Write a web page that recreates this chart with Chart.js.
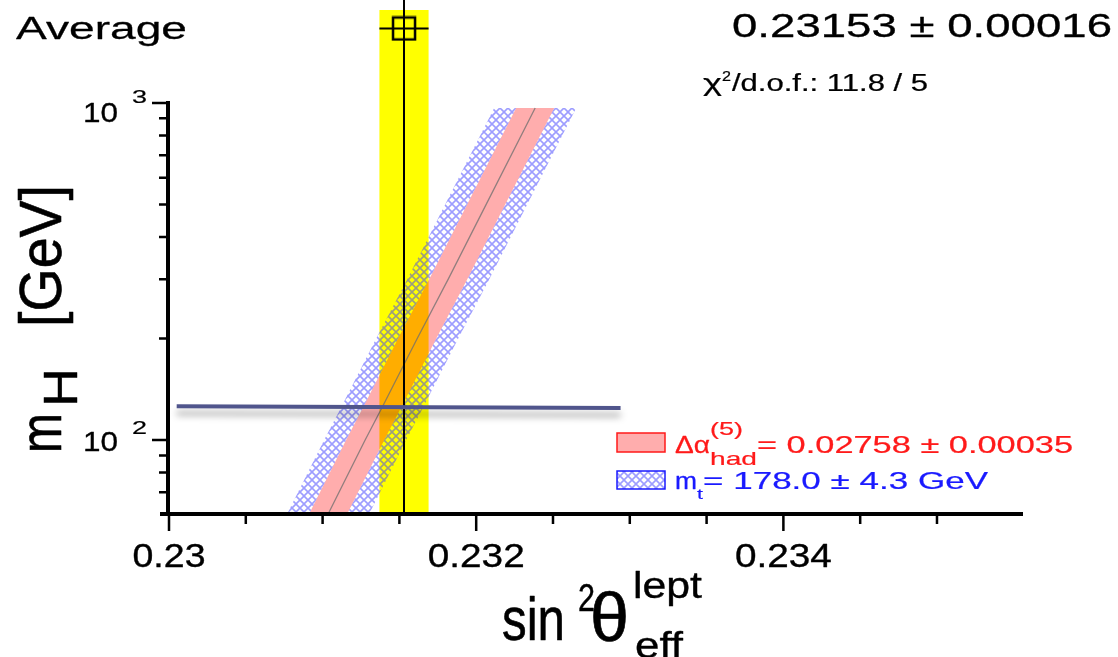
<!DOCTYPE html>
<html>
<head>
<meta charset="utf-8">
<script src="https://cdn.jsdelivr.net/npm/chart.js@4.4.1/dist/chart.umd.min.js"></script>
<style>
    html, body { margin: 0; padding: 0; background: #fff; }
    #wrap { width: 1118px; height: 657px; position: relative; }
</style>
</head>
<body>
<div id="wrap"><canvas id="ewChart"></canvas></div>
<script>
const mHLevels = [60.3, 100, 125, 200, 300, 500, 966];
// sin2theta_eff prediction vs mH
const centralLine = [0.231036, 0.231277, 0.231388, 0.231616, 0.231818, 0.232065, 0.232384];
const alphaLow  = [0.230912, 0.231153, 0.231264, 0.231492, 0.231694, 0.231941, 0.232260];
const alphaHigh = [0.231160, 0.231401, 0.231512, 0.231740, 0.231942, 0.232189, 0.232508];
const topLow    = [0.230769, 0.231010, 0.231121, 0.231349, 0.231551, 0.231798, 0.232117];
const topHigh   = [0.231303, 0.231544, 0.231655, 0.231883, 0.232085, 0.232332, 0.232651];

// measured average
const averageValue = 0.23153;
const averageError = 0.00016;
const averageBandMH = [60.3, 1888];
const averageLineMH = [60.3, 2021];
const averageRowMH = 1663;

// mH = 125 GeV marker line
const higgsLineX = [0.23005, 0.23294];
const higgsLineMH = [126, 124.5];

// axes
const xMin = 0.23, xMax = 0.23556;
const yMin = 60.3, yMax = 1966;
const xMajorTicks = [0.230, 0.232, 0.234];
const xTickLabels = ['0.23', '0.232', '0.234'];
const xMinorTicks = [0.2305, 0.2310, 0.2315, 0.2325, 0.2330, 0.2335, 0.2345, 0.2350];
const yMajorTicks = [100, 1000];
const yTickExponents = ['2', '3'];
const yMinorTicks = [70, 80, 90, 200, 300, 400, 500, 600, 700, 800, 900];

const FONT = '"Liberation Sans", Arial, Helvetica, sans-serif';

function makeHatch() {
    const c = document.createElement('canvas');
    c.width = 8; c.height = 8;
    const g = c.getContext('2d');
    g.strokeStyle = 'rgba(60,60,255,0.5)';
    g.lineWidth = 1.6;
    g.beginPath();
    g.moveTo(-1, -1); g.lineTo(9, 9);
    g.moveTo(9, -1); g.lineTo(-1, 9);
    g.stroke();
    return g.createPattern(c, 'repeat');
}
const hatch = makeHatch();
const pink = 'rgba(255,0,0,0.32)';

// open square used as the marker of the average
function makeSquare() {
    const c = document.createElement('canvas');
    c.width = 26; c.height = 26;
    const g = c.getContext('2d');
    g.strokeStyle = '#000';
    g.lineWidth = 2.5;
    g.strokeRect(2, 2, 22, 22);
    return c;
}

const pts = (xs, ys) => xs.map((x, i) => ({ x: x, y: ys[i] }));

function edge(data, extra) {
    return Object.assign({
        data: data,
        borderColor: 'transparent',
        borderWidth: 0,
        pointRadius: 0,
        fill: false
    }, extra);
}

// draw text squeezed/stretched to a given width (the source image is not uniformly scaled)
function fitText(ctx, text, x, baseline, size, width, color) {
    ctx.save();
    ctx.font = size + 'px ' + FONT;
    const w = ctx.measureText(text).width;
    const sx = width / w;
    ctx.translate(x, baseline);
    ctx.scale(sx, 1);
    ctx.fillStyle = color;
    ctx.strokeStyle = color;
    ctx.lineWidth = (0.15 + size / 130) / Math.max(sx, 1);
    ctx.lineJoin = 'round';
    ctx.textAlign = 'left';
    ctx.textBaseline = 'alphabetic';
    ctx.fillText(text, 0, 0);
    ctx.strokeText(text, 0, 0);
    ctx.restore();
}

function fitTextUp(ctx, text, baselineX, startY, size, length, color) {
    ctx.save();
    ctx.translate(baselineX, startY);
    ctx.rotate(-Math.PI / 2);
    fitText(ctx, text, 0, 0, size, length, color);
    ctx.restore();
}

const decor = {
    id: 'decor',
    beforeDatasetDraw(chart, args) {
        if (args.index === 8) {
            const ctx = chart.ctx;
            ctx.save();
            ctx.shadowColor = 'rgba(0,0,0,0.35)';
            ctx.shadowBlur = 7;
            ctx.shadowOffsetY = 7;
        }
    },
    afterDatasetDraw(chart, args) {
        if (args.index === 8) chart.ctx.restore();
    },
    afterDraw(chart) {
        const ctx = chart.ctx;
        const xs = chart.scales.x, ys = chart.scales.y;
        const axisX = xs.getPixelForValue(xMin) - 1;
        const axisY = ys.getPixelForValue(yMin);
        const black = '#000';

        // axis lines
        ctx.save();
        ctx.strokeStyle = black;
        ctx.lineWidth = 4;
        ctx.beginPath();
        ctx.moveTo(axisX, ys.getPixelForValue(1000) - 2);
        ctx.lineTo(axisX, axisY + 2);
        ctx.moveTo(axisX - 8, axisY);
        ctx.lineTo(xs.getPixelForValue(xMax), axisY);
        ctx.stroke();

        // ticks
        ctx.lineWidth = 2.5;
        ctx.beginPath();
        xMajorTicks.forEach(v => {
            const px = xs.getPixelForValue(v);
            ctx.moveTo(px, axisY); ctx.lineTo(px, axisY + 17);
        });
        xMinorTicks.forEach(v => {
            const px = xs.getPixelForValue(v);
            ctx.moveTo(px, axisY); ctx.lineTo(px, axisY + 10);
        });
        yMajorTicks.forEach(v => {
            const py = ys.getPixelForValue(v);
            ctx.moveTo(axisX, py); ctx.lineTo(axisX - 16, py);
        });
        yMinorTicks.forEach(v => {
            const py = ys.getPixelForValue(v);
            ctx.moveTo(axisX, py); ctx.lineTo(axisX - 9, py);
        });
        ctx.stroke();
        ctx.restore();

        // x tick labels
        const xLabelWidths = [73, 97, 97];
        xMajorTicks.forEach((v, i) => {
            const px = xs.getPixelForValue(v);
            fitText(ctx, xTickLabels[i], px - xLabelWidths[i] / 2, 567, 34, xLabelWidths[i], black);
        });

        // y tick labels (10^n)
        const baseOffsets = [11, 19];
        const expOffsets = [-6, 0];
        yMajorTicks.forEach((v, i) => {
            const py = ys.getPixelForValue(v);
            fitText(ctx, '10', 83, py + baseOffsets[i], 28, 35, black);
            fitText(ctx, yTickExponents[i], 132, py + expOffsets[i], 19, 15, black);
        });

        // x axis title
        fitText(ctx, 'sin', 502, 640, 62, 63, black);
        fitText(ctx, '2', 578, 611, 38, 17, black);
        fitText(ctx, 'θ', 590, 641, 68, 39, black);
        fitText(ctx, 'lept', 633, 598, 36, 69, black);
        fitText(ctx, 'eff', 635, 658, 36, 48, black);

        // y axis title
        fitTextUp(ctx, 'm', 61, 453, 60, 40, black);
        fitTextUp(ctx, 'H', 77, 407, 48, 39, black);
        fitTextUp(ctx, '[GeV]', 61, 327, 60, 142, black);

        // header
        fitText(ctx, 'Average', 16, 39, 32, 171, black);
        fitText(ctx, averageValue.toFixed(5) + ' \u00b1 ' + averageError.toFixed(5), 732, 37, 33, 380, black);
        fitText(ctx, '\u03c7', 703, 91, 23, 19, black);
        fitText(ctx, '2', 722, 81, 15, 9, black);
        fitText(ctx, '/d.o.f.: 11.8 / 5', 732, 91, 23, 196, black);

        // legend
        const red = '#ff1a1a', blue = '#1a1aff';
        ctx.save();
        ctx.fillStyle = '#fff';
        ctx.fillRect(617, 433, 48, 19);
        ctx.fillStyle = pink;
        ctx.fillRect(617, 433, 48, 19);
        ctx.strokeStyle = red;
        ctx.lineWidth = 1.5;
        ctx.strokeRect(617, 433, 48, 19);
        ctx.fillStyle = hatch;
        ctx.fillRect(617, 471, 48, 18);
        ctx.strokeStyle = blue;
        ctx.strokeRect(617, 471, 48, 18);
        ctx.restore();

        fitText(ctx, '\u0394\u03b1', 675, 453, 23, 35, red);
        fitText(ctx, '(5)', 710, 435, 18, 33, red);
        fitText(ctx, 'had', 710, 465, 19, 47, red);
        fitText(ctx, '= 0.02758 \u00b1 0.00035', 757, 453, 23, 316, red);

        fitText(ctx, 'm', 675, 489, 23, 22, blue);
        fitText(ctx, 't', 697, 499, 15, 6, blue);
        fitText(ctx, '= 178.0 \u00b1 4.3 GeV', 703, 489, 23, 285, blue);
    }
};

const ctx = document.getElementById('ewChart').getContext('2d');
new Chart(ctx, {
    type: 'line',
    data: {
        datasets: [
            // 0,1 yellow average band
            edge(pts([averageValue - averageError, averageValue - averageError], averageBandMH), { order: 9 }),
            edge(pts([averageValue + averageError, averageValue + averageError], averageBandMH), { order: 9, fill: '-1', backgroundColor: '#ffff00' }),
            // 2..5 m_t (hatched) and delta alpha (pink) bands
            edge(pts(topLow, mHLevels), { order: 8 }),
            edge(pts(alphaLow, mHLevels), { order: 7, fill: '-1', backgroundColor: hatch }),
            edge(pts(alphaHigh, mHLevels), { order: 7, fill: '-1', backgroundColor: pink }),
            edge(pts(topHigh, mHLevels), { order: 7, fill: '-1', backgroundColor: hatch }),
            // 6 central prediction
            edge(pts(centralLine, mHLevels), { order: 6, borderColor: 'rgba(110,110,110,0.75)', borderWidth: 1.3 }),
            // 7 average vertical line (runs up to the top edge of the picture)
            edge(pts([averageValue, averageValue], averageLineMH), { order: 5, borderColor: '#000', borderWidth: 2, clip: false }),
            // 8 mH = 125 line
            edge(pts(higgsLineX, higgsLineMH), { order: 4, borderColor: '#50558c', borderWidth: 4 }),
            // 9 error bar of the average
            edge(pts([averageValue - averageError, averageValue + averageError], [averageRowMH, averageRowMH]), { order: 3, borderColor: '#000', borderWidth: 2 }),
            // 10 average marker
            edge([{ x: averageValue, y: averageRowMH }], {
                order: 2, showLine: false, pointRadius: 1, pointStyle: makeSquare()
            })
        ]
    },
    options: {
        indexAxis: 'y',
        responsive: true,
        maintainAspectRatio: false,
        animation: false,
        layout: { padding: { left: 169, right: 95, top: 4, bottom: 143 } },
        scales: {
            x: { type: 'linear', position: 'bottom', min: xMin, max: xMax, display: false },
            y: { type: 'logarithmic', position: 'left', min: yMin, max: yMax, display: false }
        },
        elements: { line: { tension: 0 } },
        plugins: {
            legend: { display: false },
            tooltip: { enabled: false },
            filler: { propagate: false }
        }
    },
    plugins: [decor]
});
</script>
</body>
</html>
